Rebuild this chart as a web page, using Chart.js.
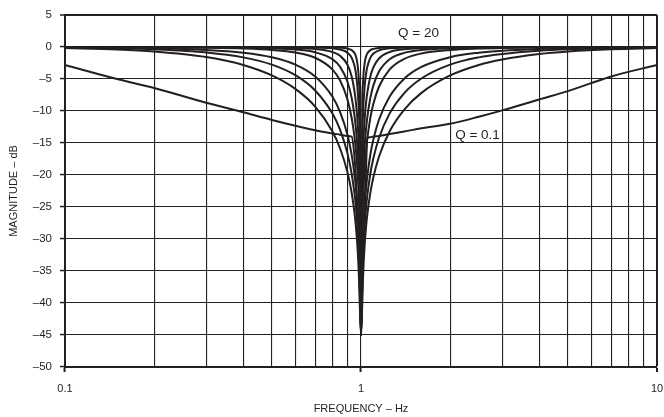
<!DOCTYPE html>
<html>
<head>
<meta charset="utf-8">
<script src="https://cdn.jsdelivr.net/npm/chart.js@4"></script>
<style>
  html, body { margin: 0; padding: 0; background: #fff; }
  canvas { display: block; }
</style>
</head>
<body>
<canvas id="notch" width="664" height="417"></canvas>
<script>
// normalised frequency points shared by every curve
const freqHz = [0.1, 0.15, 0.2, 0.3, 0.4, 0.5, 0.6, 0.7, 0.8, 0.85,
  0.9, 0.93, 0.95, 0.96, 0.97, 0.98, 0.985, 0.99, 1.0,
  1.01, 1.015, 1.02, 1.03, 1.04, 1.05, 1.075, 1.1, 1.15, 1.25,
  1.4, 1.6, 2, 2.5, 3, 4, 5, 7, 10];

// magnitude in dB, one array per Q
const magQ0_1 = [-2.8, -5.0, -6.4, -8.7, -10.2, -11.4, -12.3, -13.0, -13.5, -13.7,
  -13.9, -14.0, -17.0, -20, -24, -29, -32, -36, -45,
  -37, -33, -30, -24, -19, -14.2, -14.1, -14.0, -13.9, -13.6,
  -13.2, -12.7, -12.0, -10.9, -9.9, -8.2, -6.9, -4.6, -2.8];
const magQ0_5 = [-0.17, -0.39, -0.7, -1.57, -2.8, -4.44, -6.55, -9.31, -13.17, -15.86,
  -19.58, -22.8, -25.81, -27.78, -30.32, -33.9, -36.42, -39.96, -45,
  -40.04, -36.54, -34.07, -30.59, -28.12, -26.23, -22.83, -20.44, -17.15, -13.17,
  -9.78, -7.17, -4.44, -2.8, -1.94, -1.09, -0.7, -0.35, -0.17];
const magQ0_707 = [-0.09, -0.2, -0.36, -0.85, -1.62, -2.76, -4.41, -6.79, -10.37, -12.96,
  -16.62, -19.81, -22.81, -24.78, -27.33, -30.89, -33.41, -36.95, -45,
  -37.03, -33.53, -31.06, -27.58, -25.13, -23.24, -19.84, -17.47, -14.22, -10.37,
  -7.2, -4.92, -2.76, -1.62, -1.08, -0.58, -0.36, -0.18, -0.09];
const magQ1 = [-0.04, -0.1, -0.18, -0.45, -0.89, -1.6, -2.74, -4.6, -7.74, -10.16,
  -13.7, -16.85, -19.82, -21.78, -24.32, -27.88, -30.4, -33.94, -45,
  -34.02, -30.52, -28.05, -24.58, -22.13, -20.25, -16.88, -14.54, -11.37, -7.74,
  -4.95, -3.12, -1.6, -0.89, -0.57, -0.3, -0.18, -0.09, -0.04];
const magQ2 = [-0.01, -0.03, -0.05, -0.12, -0.24, -0.46, -0.86, -1.68, -3.49, -5.24,
  -8.2, -11.09, -13.94, -15.85, -18.35, -21.88, -24.39, -27.92, -45,
  -28.01, -24.51, -22.05, -18.61, -16.19, -14.35, -11.11, -8.95, -6.21, -3.49,
  -1.85, -1.01, -0.46, -0.24, -0.15, -0.08, -0.05, -0.02, -0.01];
const magQ3 = [0, -0.01, -0.02, -0.05, -0.11, -0.21, -0.4, -0.83, -1.9, -3.1,
  -5.43, -7.97, -10.63, -12.47, -14.91, -18.39, -20.89, -24.41, -45,
  -24.5, -21.01, -18.56, -15.16, -12.79, -11.02, -7.99, -6.07, -3.83, -1.9,
  -0.92, -0.48, -0.21, -0.11, -0.07, -0.03, -0.02, -0.01, 0];
const magQ5 = [0, 0, -0.01, -0.02, -0.04, -0.08, -0.15, -0.32, -0.78, -1.38,
  -2.78, -4.62, -6.81, -8.45, -10.71, -14.07, -16.52, -20.0, -45,
  -20.09, -16.63, -14.23, -10.95, -8.74, -7.16, -4.64, -3.22, -1.79, -0.78,
  -0.35, -0.18, -0.08, -0.04, -0.02, -0.01, -0.01, 0, 0];
const magQ10 = [0, 0, 0, -0.01, -0.01, -0.02, -0.04, -0.08, -0.21, -0.39,
  -0.88, -1.68, -2.9, -3.98, -5.68, -8.53, -10.78, -14.11, -45,
  -14.19, -10.89, -8.68, -5.87, -4.19, -3.12, -1.69, -1.05, -0.52, -0.21,
  -0.09, -0.05, -0.02, -0.01, 0, 0, 0, 0, 0];
const magQ20 = [0, 0, 0, 0, 0, 0, -0.01, -0.02, -0.05, -0.1,
  -0.24, -0.49, -0.92, -1.38, -2.24, -4.03, -5.73, -8.57, -45,
  -8.64, -5.82, -4.14, -2.35, -1.48, -1.01, -0.49, -0.29, -0.14, -0.05,
  -0.02, -0.01, 0, 0, 0, 0, 0, 0, 0];

const qNames = ['0.1', '0.5', '0.707', '1', '2', '3', '5', '10', '20'];
const curves = [magQ0_1, magQ0_5, magQ0_707, magQ1, magQ2, magQ3, magQ5, magQ10, magQ20];

// vertical grid (1-2-3...9 per decade) and the labelled decades
const gridFreqs = [0.1, 0.2, 0.3, 0.4, 0.5, 0.6, 0.7, 0.8, 0.9,
  1, 2, 3, 4, 5, 6, 7, 8, 9, 10];
const decadeTicks = [0.1, 1, 10];
const decadeLabels = ['0.1', '1', '10'];

const INK = '#231f20';
const FONT = "'Liberation Sans', Arial, Helvetica, sans-serif";

const datasets = curves.map(function (mags, i) {
  return {
    label: 'Q = ' + qNames[i],
    data: freqHz.map(function (f, k) { return { x: f, y: mags[k] }; }),
    borderColor: INK,
    borderWidth: 2,
    pointRadius: 0,
    fill: false,
    cubicInterpolationMode: 'monotone'
  };
});

// "Q = 20" / "Q = 0.1" callouts, placed in data coordinates
const curveNotes = {
  id: 'curveNotes',
  afterDatasetsDraw(chart) {
    const c = chart.ctx, xs = chart.scales.x, ys = chart.scales.y;
    c.save();
    c.fillStyle = INK;
    c.font = '13.5px ' + FONT;
    c.textBaseline = 'middle';
    c.textAlign = 'left';
    c.fillText('Q = 20', xs.getPixelForValue(1.334), ys.getPixelForValue(2.2));
    c.fillText('Q = 0.1', xs.getPixelForValue(2.08), ys.getPixelForValue(-13.75));
    c.restore();
  }
};

new Chart(document.getElementById('notch'), {
  type: 'line',
  data: { datasets: datasets },
  plugins: [curveNotes],
  options: {
    responsive: false,
    animation: false,
    devicePixelRatio: 1,
    layout: { padding: { left: 0, right: 7, top: 15, bottom: 0 } },
    plugins: {
      legend: { display: false },
      tooltip: { enabled: false }
    },
    scales: {
      x: {
        type: 'logarithmic',
        min: 0.1,
        max: 10,
        afterBuildTicks(scale) {
          scale.ticks = gridFreqs.map(function (v) { return { value: v }; });
        },
        afterFit(scale) {
          // let the end labels hang over the frame instead of shrinking the plot
          scale.height = 50;
          scale.paddingLeft = 0;
          scale.paddingRight = 0;
        },
        ticks: {
          autoSkip: false,
          maxRotation: 0,
          padding: 10,
          color: INK,
          font: { family: FONT, size: 11 },
          callback(value) {
            const i = decadeTicks.indexOf(value);
            return i >= 0 ? decadeLabels[i] : '';
          }
        },
        grid: {
          color: INK,
          lineWidth(ctx) { return ctx.tick && ctx.tick.value === 10 ? 2 : 1.1; },
          tickLength: 5,
          tickColor(ctx) {
            return ctx.tick && decadeTicks.indexOf(ctx.tick.value) >= 0 ? INK : 'rgba(0,0,0,0)';
          },
          tickWidth: 2
        },
        border: { display: true, color: INK, width: 2 },
        title: {
          display: true,
          text: 'FREQUENCY – Hz',
          color: INK,
          font: { family: FONT, size: 11 },
          padding: { top: 0, bottom: 1 }
        }
      },
      y: {
        min: -50,
        max: 5,
        afterFit(scale) { scale.width = 65; },
        ticks: {
          stepSize: 5,
          padding: 8,
          color: INK,
          font: { family: FONT, size: 11.5 },
          callback(value) { return value < 0 ? '–' + Math.abs(value) : String(value); }
        },
        grid: {
          color: INK,
          lineWidth(ctx) { return ctx.tick && ctx.tick.value === 5 ? 2 : 1.1; },
          tickLength: 5,
          tickColor: INK,
          tickWidth: 1.5
        },
        border: { display: true, color: INK, width: 2 },
        title: {
          display: true,
          text: 'MAGNITUDE – dB',
          color: INK,
          font: { family: FONT, size: 11 },
          padding: { top: 7, bottom: 0 }
        }
      }
    }
  }
});
</script>
</body>
</html>
